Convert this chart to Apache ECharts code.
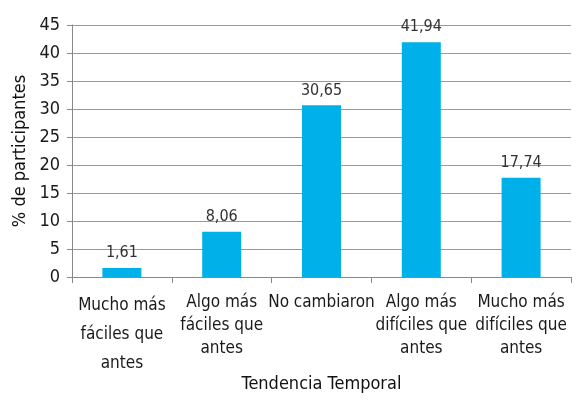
<!DOCTYPE html>
<html><head><meta charset="utf-8">
<script src="https://cdn.jsdelivr.net/npm/echarts@6/dist/echarts.min.js"></script>
<style>html,body{margin:0;padding:0;background:#fff}#c{width:577px;height:401px}</style>
</head><body><div id="c"></div>
<script>
var categories = ["Mucho más\nfáciles que\nantes", "Algo más\nfáciles que\nantes", "No cambiaron", "Algo más\ndifíciles que\nantes", "Mucho más\ndifíciles que\nantes"];
var values = [1.61, 8.06, 30.65, 41.94, 17.74];
var yTicks = [0, 5, 10, 15, 20, 25, 30, 35, 40, 45];
var FONT = "'Liberation Sans Narrow','DejaVu Sans Condensed',sans-serif";
var chart = echarts.init(document.getElementById('c'));
chart.setOption({
  animation: false,
  grid: {left: 72, right: 6, top: 25, bottom: 124, containLabel: false, outerBoundsMode: 'none'},
  xAxis: {
    type: 'category', data: categories.map(function(c, i){
      return i === 0 ? {value: c, textStyle: {lineHeight: 29}} : c;
    }),
    axisLine: {lineStyle: {color: '#888', width: 1}},
    axisTick: {show: true, length: 6, lineStyle: {color: '#888'}},
    axisLabel: {interval: 0, color: '#1a1a1a', fontFamily: FONT, fontSize: 17, lineHeight: 23, margin: 14},
    name: 'Tendencia Temporal', nameLocation: 'middle', nameGap: 98, nameMoveOverlap: false,
    nameTextStyle: {color: '#111', fontFamily: FONT, fontSize: 18}
  },
  yAxis: {
    type: 'value', min: 0, max: 45, interval: 5,
    axisLine: {show: true, lineStyle: {color: '#888'}},
    axisTick: {show: true, length: 5, lineStyle: {color: '#888'}},
    splitLine: {lineStyle: {color: '#999', width: 1}},
    axisLabel: {color: '#1a1a1a', fontFamily: FONT, fontSize: 18, margin: 12,
      formatter: function(v){ return yTicks.indexOf(v) >= 0 ? String(v) : ''; }},
    name: '% de participantes', nameLocation: 'middle', nameGap: 43, nameMoveOverlap: false, nameRotate: 90,
    nameTextStyle: {color: '#111', fontFamily: FONT, fontSize: 18}
  },
  series: [{
    type: 'bar', data: values, barWidth: 39,
    itemStyle: {color: '#00B0E8'},
    label: {show: true, position: 'top', distance: 7, color: '#333', fontFamily: FONT, fontSize: 16,
      formatter: function(p){ return p.value.toFixed(2).replace('.', ','); }}
  }]
});
</script></body></html>
